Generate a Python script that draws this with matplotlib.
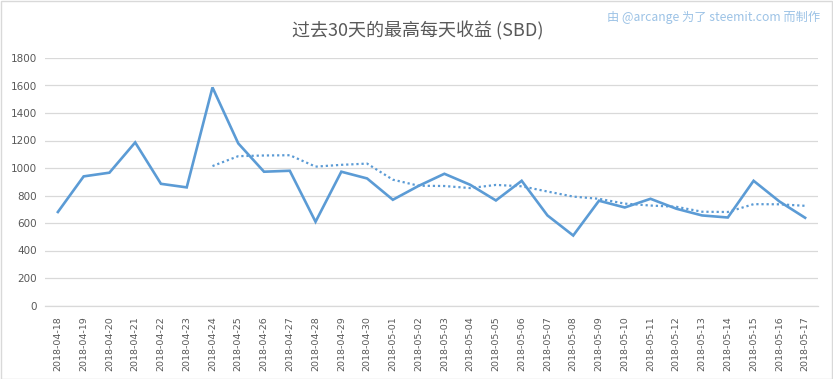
import matplotlib
matplotlib.use("Agg")
import matplotlib.pyplot as plt
from matplotlib.patches import Rectangle

plt.rcParams['font.family'] = ['Noto Sans CJK SC', 'DejaVu Sans']

dates = ['2018-04-18', '2018-04-19', '2018-04-20', '2018-04-21', '2018-04-22',
         '2018-04-23', '2018-04-24', '2018-04-25', '2018-04-26', '2018-04-27',
         '2018-04-28', '2018-04-29', '2018-04-30', '2018-05-01', '2018-05-02',
         '2018-05-03', '2018-05-04', '2018-05-05', '2018-05-06', '2018-05-07',
         '2018-05-08', '2018-05-09', '2018-05-10', '2018-05-11', '2018-05-12',
         '2018-05-13', '2018-05-14', '2018-05-15', '2018-05-16', '2018-05-17']

# highest daily payout (SBD)
top_payout = [680, 939, 966, 1186, 885, 859, 1586, 1179, 973, 980,
              609, 973, 924, 769, 870, 958, 878, 764, 907, 655,
              509, 762, 713, 776, 704, 655, 640, 907, 757, 638]

# 7 day moving average trendline, starts on 2018-04-24
trend_dates = dates[6:]
trend = [1014, 1086, 1091, 1093, 1010, 1023, 1032, 915, 871, 869,
         854, 877, 867, 829, 792, 776, 741, 727, 718, 682,
         680, 737, 736, 725]

yticks = [0, 200, 400, 600, 800, 1000, 1200, 1400, 1600, 1800]

blue = '#5B9BD5'
grey = '#595959'

fig = plt.figure(figsize=(8.33, 3.79), dpi=100)
ax = fig.add_axes([45 / 833, 1 - 305.5 / 379, 773 / 833, 247.5 / 379])

x = list(range(len(dates)))
xt = [dates.index(d) for d in trend_dates]

ax.plot(x, top_payout, color=blue, lw=1.9, solid_joinstyle='miter', zorder=3)
ax.plot(xt, trend, color=blue, lw=1.6, linestyle=(0, (1, 1.3)), zorder=3)

ax.set_xlim(-0.5, len(dates) - 0.5)
ax.set_ylim(0, 1800)
ax.set_yticks(yticks)
ax.set_yticklabels([str(v) for v in yticks], fontsize=7.5, color=grey,
                   family='DejaVu Sans')
ax.set_xticks(x)
ax.set_xticklabels(dates, rotation=90, fontsize=6.8, color=grey,
                   family='DejaVu Sans')
ax.tick_params(axis='both', length=0, pad=6)
ax.tick_params(axis='x', pad=8)
ax.grid(axis='y', color='#D9D9D9', lw=0.9)
ax.set_axisbelow(True)
for s in ['top', 'right', 'left']:
    ax.spines[s].set_visible(False)
ax.spines['bottom'].set_color('#D9D9D9')
ax.spines['bottom'].set_linewidth(0.9)

fig.text(418 / 833, 1 - 31 / 379, '过去30天的最高每天收益 (SBD)', ha='center', va='center',
         fontsize=13, color=grey)
fig.text(820 / 833, 1 - 17.5 / 379, '由 @arcange 为了 steemit.com 而制作',
         ha='right', va='center', fontsize=8.8, color='#9DC3E6')

fig.patches.append(Rectangle((0.5 / 833, 0.5 / 379), 831.5 / 833, 377.5 / 379,
                             transform=fig.transFigure, fill=False,
                             edgecolor='#D9D9D9', lw=1))

fig.savefig('out.png', dpi=100)
